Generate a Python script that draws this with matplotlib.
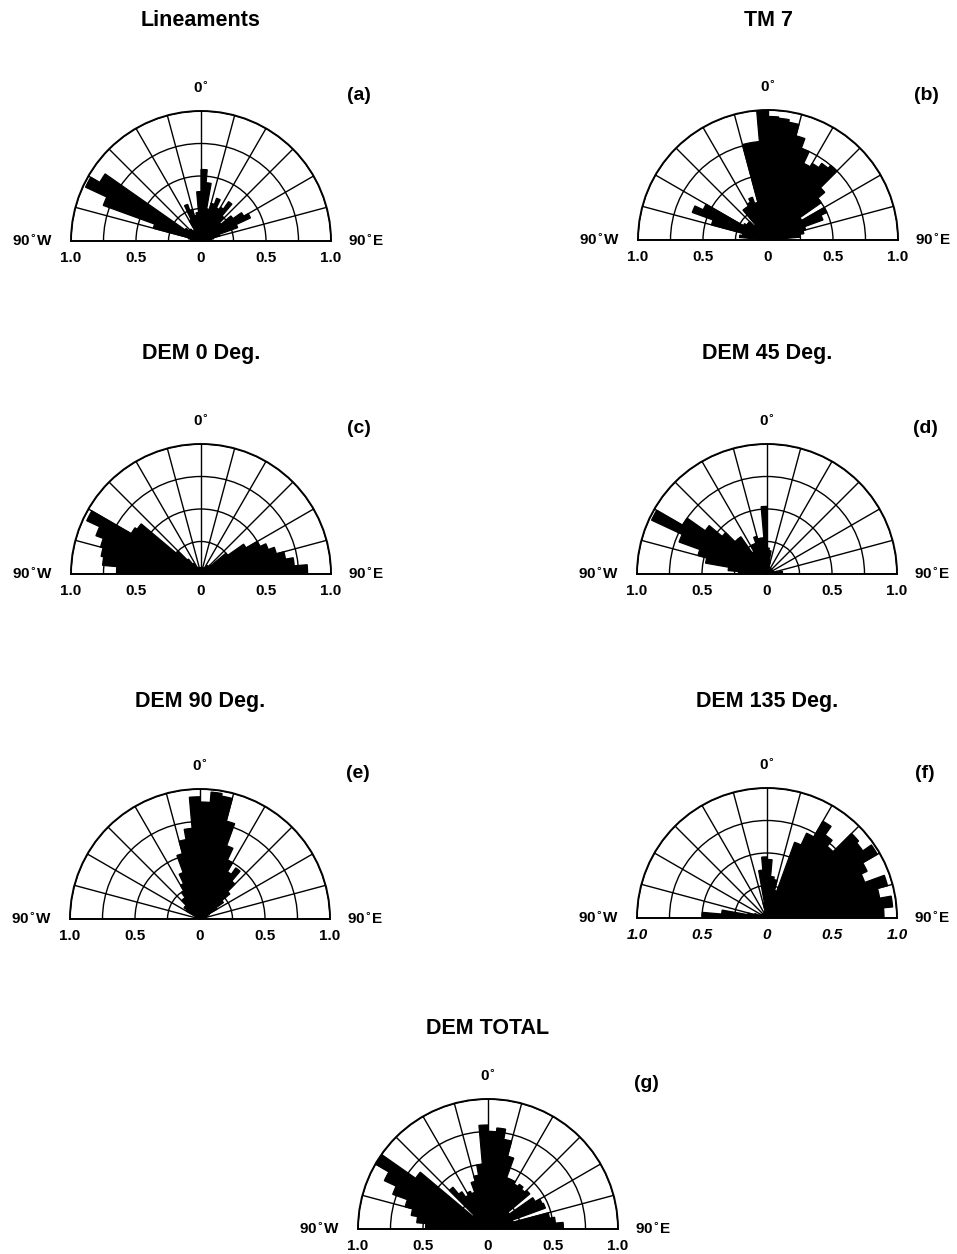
import numpy as np
import matplotlib.pyplot as plt

plt.rcParams['font.family'] = ['Liberation Sans', 'DejaVu Sans']
plt.rcParams['font.weight'] = 'bold'

# 5 degree bins, azimuth measured from north, east positive
bin_edges = np.arange(-90, 91, 5)
bin_centers = bin_edges[:-1] + 2.5

titles = ['Lineaments', 'TM 7', 'DEM 0 Deg.', 'DEM 45 Deg.',
          'DEM 90 Deg.', 'DEM 135 Deg.', 'DEM TOTAL']
letters = ['(a)', '(b)', '(c)', '(d)', '(e)', '(f)', '(g)']
tick_labels = ['1.0', '0.5', '0', '0.5', '1.0']
tick_pos = [-1.0, -0.5, 0.0, 0.5, 1.0]

# normalised frequency per bin, W -> E
lineaments = [0.05, 0.08, 0.10, 0.38, 0.80, 0.98, 0.90, 0.15, 0.12,
              0.12, 0.10, 0.08, 0.18, 0.30, 0.25, 0.20, 0.22, 0.38,
              0.55, 0.45, 0.25, 0.30, 0.35, 0.28, 0.30, 0.37, 0.25,
              0.20, 0.30, 0.38, 0.42, 0.30, 0.15, 0.10, 0.08, 0.05]
tm7 = [0.05, 0.22, 0.20, 0.45, 0.62, 0.55, 0.22, 0.20, 0.20,
       0.15, 0.30, 0.30, 0.32, 0.35, 0.30, 0.76, 0.76, 1.00,
       0.95, 0.94, 0.92, 0.83, 0.75, 0.65, 0.68, 0.72, 0.75,
       0.57, 0.50, 0.30, 0.50, 0.45, 0.30, 0.28, 0.25, 0.10]
dem0 = [0.65, 0.76, 0.78, 0.80, 0.86, 0.97, 0.62, 0.60, 0.25,
        0.15, 0.10, 0.06, 0.05, 0.05, 0.05, 0.05, 0.05, 0.05,
        0.05, 0.05, 0.05, 0.05, 0.05, 0.05, 0.05, 0.08, 0.08,
        0.10, 0.25, 0.40, 0.50, 0.55, 0.60, 0.66, 0.72, 0.82]
dem45 = [0.22, 0.30, 0.48, 0.55, 0.72, 0.98, 0.75, 0.58, 0.45,
         0.35, 0.35, 0.20, 0.25, 0.25, 0.30, 0.28, 0.28, 0.52,
         0.20, 0.18, 0.10, 0.06, 0.05, 0.05, 0.05, 0.05, 0.05,
         0.05, 0.05, 0.05, 0.05, 0.05, 0.05, 0.08, 0.12, 0.05]
dem90 = [0.03, 0.03, 0.03, 0.03, 0.03, 0.03, 0.12, 0.15, 0.15,
         0.20, 0.20, 0.25, 0.30, 0.38, 0.52, 0.62, 0.70, 0.94,
         0.90, 0.98, 0.96, 0.78, 0.60, 0.50, 0.42, 0.48, 0.38,
         0.30, 0.22, 0.15, 0.08, 0.06, 0.05, 0.05, 0.04, 0.04]
dem135 = [0.50, 0.35, 0.15, 0.10, 0.06, 0.05, 0.05, 0.04, 0.04,
          0.04, 0.04, 0.04, 0.04, 0.05, 0.05, 0.12, 0.37, 0.47,
          0.45, 0.32, 0.30, 0.22, 0.62, 0.72, 0.86, 0.78, 0.72,
          0.92, 0.90, 0.98, 0.85, 0.80, 0.96, 0.88, 0.97, 0.90]
dem_total = [0.48, 0.55, 0.60, 0.66, 0.78, 0.88, 1.00, 0.68, 0.15,
             0.42, 0.35, 0.30, 0.32, 0.30, 0.38, 0.42, 0.50, 0.80,
             0.75, 0.78, 0.70, 0.58, 0.42, 0.42, 0.40, 0.42, 0.40,
             0.42, 0.20, 0.42, 0.46, 0.47, 0.20, 0.48, 0.52, 0.58]
series = [lineaments, tm7, dem0, dem45, dem90, dem135, dem_total]

# layout in pixels: (centre x, baseline y, title y)
W, H = 957, 1254
R = 130
panels = [(201, 241, 20), (768, 240, 20),
          (201, 574, 353), (767, 574, 353),
          (200, 919, 701), (767, 918, 701),
          (488, 1229, 1028)]

fig = plt.figure(figsize=(W / 100, H / 100), dpi=100)


def fx(x):
    return x / W


def fy(y):
    return 1 - y / H


for i, (cx, by, ty) in enumerate(panels):
    # the half-disc sits in the middle half of a square polar box
    ax = fig.add_axes([fx(cx - R), fy(by + R / 2), 2 * R / W, 2 * R / H],
                      projection='polar')
    ax.set_theta_zero_location('N')
    ax.set_theta_direction(-1)
    ax.set_thetamin(-90)
    ax.set_thetamax(90)
    ax.set_ylim(0, 1)
    ax.bar(np.deg2rad(bin_centers), series[i], width=np.deg2rad(5),
           color='black', edgecolor='black', linewidth=0.9, zorder=1)
    ax.set_thetagrids(range(-90, 91, 15), labels=[])
    ax.set_rgrids([0.25, 0.5, 0.75, 1.0], labels=[])
    ax.grid(True, color='black', linewidth=1.0)
    ax.set_axisbelow(False)
    ax.tick_params(length=0)
    for sp in ax.spines.values():
        sp.set_linewidth(1.4)
        sp.set_color('black')

    fig.text(fx(cx), fy(ty), titles[i], ha='center', va='center',
             fontsize=15.5, fontweight='bold')
    fig.text(fx(cx), fy(by - 153), '0$^{\\circ}$', ha='center',
             va='center', fontsize=11, fontweight='bold')
    fig.text(fx(cx + 158), fy(by - 145), letters[i], ha='center',
             va='center', fontsize=14, fontweight='bold')
    fig.text(fx(cx - 169), fy(by), '90$^{\\circ}$W', ha='center',
             va='center', fontsize=11, fontweight='bold')
    fig.text(fx(cx + 165), fy(by), '90$^{\\circ}$E', ha='center',
             va='center', fontsize=11, fontweight='bold')
    style = 'italic' if i == 5 else 'normal'
    for p, lab in zip(tick_pos, tick_labels):
        fig.text(fx(cx + p * R), fy(by + 17), lab, ha='center',
                 va='center', fontsize=11, fontweight='bold',
                 fontstyle=style)

fig.savefig('out.png', dpi=100)
